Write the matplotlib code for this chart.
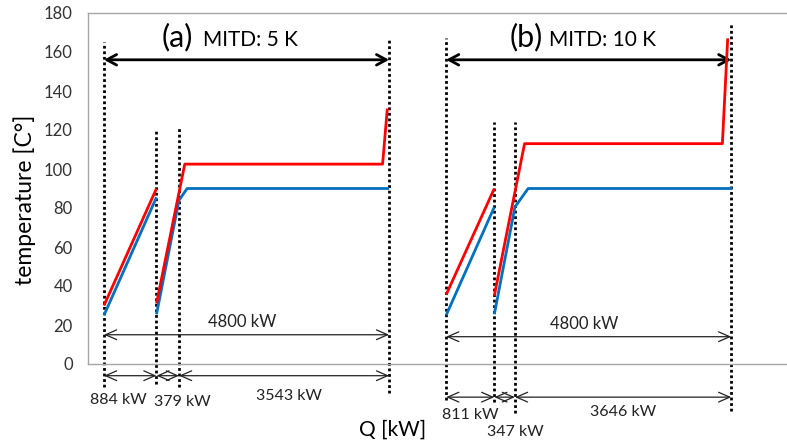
import matplotlib
matplotlib.use("Agg")
import matplotlib.pyplot as plt

plt.rcParams['font.family'] = ['Lato', 'DejaVu Sans']

# ---- data (kW along each panel, temperature in degC) ----
OFFSET_B = 5760  # horizontal offset of panel (b) on the shared axis

# panel (a) MITD 5 K
a_red1_x = [0, 884];            a_red1_t = [30, 90]
a_blue1_x = [0, 884];           a_blue1_t = [25, 85.5]
a_red2_x = [884, 1360, 4690, 4770];  a_red2_t = [31, 102.5, 102.5, 131]
a_blue2_x = [884, 1263, 1400, 4800]; a_blue2_t = [25.5, 84, 90, 90]
a_bounds = [0, 884, 1263, 4800]
a_bound_top = [165, 120, 121, 166]
a_bound_bot = [-12, -10, -12, -15]
a_seg_labels = ["884 kW", "379 kW", "3543 kW"]

# panel (b) MITD 10 K
b_red1_x = [0, 811];            b_red1_t = [35.5, 90]
b_blue1_x = [0, 811];           b_blue1_t = [25, 80.5]
b_red2_x = [811, 1320, 4650, 4740];  b_red2_t = [35, 113, 113, 167]
b_blue2_x = [811, 1158, 1380, 4820]; b_blue2_t = [25.5, 80.5, 90, 90]
b_bounds = [0, 811, 1158, 4800]
b_bound_top = [167, 124, 124, 175]
b_bound_bot = [-18.5, -19.5, -25, -24]
b_seg_labels = ["811 kW", "347 kW", "3646 kW"]

total_label = "4800 kW"
yticks = [0, 20, 40, 60, 80, 100, 120, 140, 160, 180]

RED = '#FF0000'
BLUE = '#0070C0'

fig = plt.figure(figsize=(7.87, 4.45), dpi=100)
ax = fig.add_axes([88/787, 81/445, 699/787, 351/445])
ax.set_xlim(-269, 11498)
ax.set_ylim(0, 180)
ax.set_yticks(yticks)
ax.set_xticks([])
ax.tick_params(axis='y', length=0, pad=11, labelsize=12, labelcolor='#333333')
for s in ['left', 'top', 'bottom']:
    ax.spines[s].set_color('#A6A6A6')
    ax.spines[s].set_linewidth(1.0)
ax.spines['right'].set_visible(False)


def panel(off, r1x, r1t, b1x, b1t, r2x, r2t, b2x, b2t, bounds, btop, bbot,
          seg_labels, seg_label_pos, low_y, total_y, title_parts):
    sh = lambda xs: [x + off for x in xs]
    # dotted boundaries
    for x, t0, t1 in zip(bounds, btop, bbot):
        ax.plot([x + off, x + off], [t1, t0], color='black', lw=2.0,
                ls=(0, (1, 1)), clip_on=False, zorder=2)
    ax.plot(sh(b1x), b1t, color=BLUE, lw=2.0, zorder=3, solid_capstyle='butt')
    ax.plot(sh(b2x), b2t, color=BLUE, lw=2.0, zorder=3, solid_capstyle='butt')
    ax.plot(sh(r1x), r1t, color=RED, lw=2.0, zorder=4, solid_capstyle='butt')
    ax.plot(sh(r2x), r2t, color=RED, lw=2.0, zorder=4, solid_capstyle='butt')
    # thick top arrow
    ax.annotate('', xy=(bounds[0] + off, 156), xytext=(bounds[-1] + off, 156),
                arrowprops=dict(arrowstyle='<->,head_length=0.7,head_width=0.38',
                                lw=2.0, color='black', mutation_scale=10,
                                shrinkA=0, shrinkB=0), annotation_clip=False)
    # total arrow
    ax.annotate('', xy=(bounds[0] + off, total_y), xytext=(bounds[-1] + off, total_y),
                arrowprops=dict(arrowstyle='<->,head_length=0.8,head_width=0.35',
                                lw=0.9, color='#222222', mutation_scale=10,
                                shrinkA=0, shrinkB=0), annotation_clip=False)
    ax.text((bounds[0] + bounds[-1]) / 2 + off - 80, total_y + 2.2, total_label,
            ha='center', va='bottom', fontsize=12, color='#222222')
    # segment arrows
    for i in range(3):
        ax.annotate('', xy=(bounds[i] + off, low_y), xytext=(bounds[i + 1] + off, low_y),
                    arrowprops=dict(arrowstyle='<->,head_length=0.8,head_width=0.35',
                                    lw=0.9, color='#222222', mutation_scale=10,
                                    shrinkA=0, shrinkB=0), annotation_clip=False)
    for lab, (x, y) in zip(seg_labels, seg_label_pos):
        ax.text(x + off, y, lab, ha='center', va='center', fontsize=11.5,
                color='#222222', clip_on=False)
    (t1, x1), (t2, x2) = title_parts
    ax.text(x1 + off, 163, t1, ha='left', va='baseline', fontsize=22, color='black')
    ax.text(x2 + off, 163, t2, ha='left', va='baseline', fontsize=15, color='black')


panel(0, a_red1_x, a_red1_t, a_blue1_x, a_blue1_t, a_red2_x, a_red2_t,
      a_blue2_x, a_blue2_t, a_bounds, a_bound_top, a_bound_bot,
      a_seg_labels, [(236, -18.5), (1313, -19.5), (3114, -16.4)],
      -6, 15, [("(a)", 970), ("MITD: 5 K", 1670)])
panel(OFFSET_B, b_red1_x, b_red1_t, b_blue1_x, b_blue1_t, b_red2_x, b_red2_t,
      b_blue2_x, b_blue2_t, b_bounds, b_bound_top, b_bound_bot,
      b_seg_labels, [(402, -26), (1159, -35), (2977, -24.6)],
      -17, 14, [("(b)", 1075), ("MITD: 10 K", 1730)])

fig.text(25/787, 1 - 200/445, 'temperature [C°]', rotation=90, ha='center',
         va='center', fontsize=16.5, color='black')
fig.text(393/787, 1 - 430/445, 'Q [kW]', ha='center', va='center',
         fontsize=15, color='black')

fig.savefig('out.png', dpi=100)
